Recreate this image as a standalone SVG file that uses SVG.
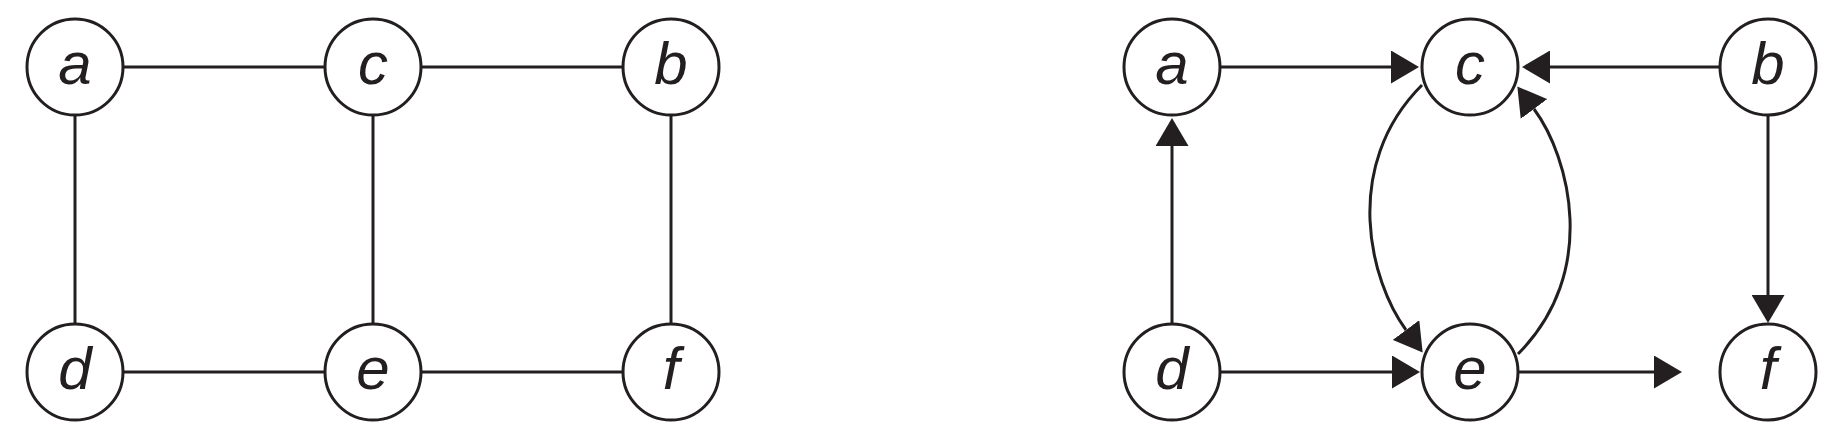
<svg xmlns="http://www.w3.org/2000/svg" width="1848" height="445" viewBox="0 0 1848 445">
<defs>
<style>
.n circle{fill:#fff;stroke:#231f20;stroke-width:3}
.n text{font-family:"Liberation Sans",Arial,sans-serif;font-style:italic;font-size:60px;fill:#231f20;text-anchor:middle}
.e{fill:none;stroke:#231f20;stroke-width:3}
.a{marker-end:url(#ah)}
</style>
<marker id="ah" viewBox="0 0 28 33" refX="0" refY="16.5" markerWidth="28" markerHeight="33" markerUnits="userSpaceOnUse" orient="auto">
<path d="M0,0 L28,16.5 L0,33 z" fill="#231f20"/>
</marker>
</defs>
<g id="connectors">
<line class="e" x1="123" y1="67" x2="325" y2="67"/>
<line class="e" x1="421" y1="67" x2="623" y2="67"/>
<line class="e" x1="123" y1="372" x2="325" y2="372"/>
<line class="e" x1="421" y1="372" x2="623" y2="372"/>
<line class="e" x1="75" y1="115" x2="75" y2="324"/>
<line class="e" x1="373" y1="115" x2="373" y2="324"/>
<line class="e" x1="671" y1="115" x2="671" y2="324"/>
<line class="e a" x1="1220" y1="67" x2="1391" y2="67"/>
<line class="e a" x1="1720" y1="67" x2="1550" y2="67"/>
<line class="e a" x1="1172" y1="324" x2="1172" y2="146"/>
<line class="e a" x1="1768" y1="115" x2="1768" y2="295"/>
<line class="e a" x1="1220" y1="372" x2="1392" y2="372"/>
<line class="e a" x1="1518" y1="372" x2="1654" y2="372"/>
<path class="e a" d="M1422,85 C1340.4,166.6 1370.3,281.8 1406,330"/>
<path class="e a" d="M1518,354 C1599.6,272.4 1569.7,157.2 1534,109"/>
</g>
<g id="node-a-left" class="n"><circle cx="75" cy="67" r="48"/><text x="75" y="84">a</text></g>
<g id="node-c-left" class="n"><circle cx="373" cy="67" r="48"/><text x="373" y="84">c</text></g>
<g id="node-b-left" class="n"><circle cx="671" cy="67" r="48"/><text x="671" y="84">b</text></g>
<g id="node-d-left" class="n"><circle cx="75" cy="372" r="48"/><text x="75" y="389">d</text></g>
<g id="node-e-left" class="n"><circle cx="373" cy="372" r="48"/><text x="373" y="389">e</text></g>
<g id="node-f-left" class="n"><circle cx="671" cy="372" r="48"/><text x="671" y="389">f</text></g>
<g id="node-a-right" class="n"><circle cx="1172" cy="67" r="48"/><text x="1172" y="84">a</text></g>
<g id="node-c-right" class="n"><circle cx="1470" cy="67" r="48"/><text x="1470" y="84">c</text></g>
<g id="node-b-right" class="n"><circle cx="1768" cy="67" r="48"/><text x="1768" y="84">b</text></g>
<g id="node-d-right" class="n"><circle cx="1172" cy="372" r="48"/><text x="1172" y="389">d</text></g>
<g id="node-e-right" class="n"><circle cx="1470" cy="372" r="48"/><text x="1470" y="389">e</text></g>
<g id="node-f-right" class="n"><circle cx="1768" cy="372" r="48"/><text x="1768" y="389">f</text></g>
</svg>
